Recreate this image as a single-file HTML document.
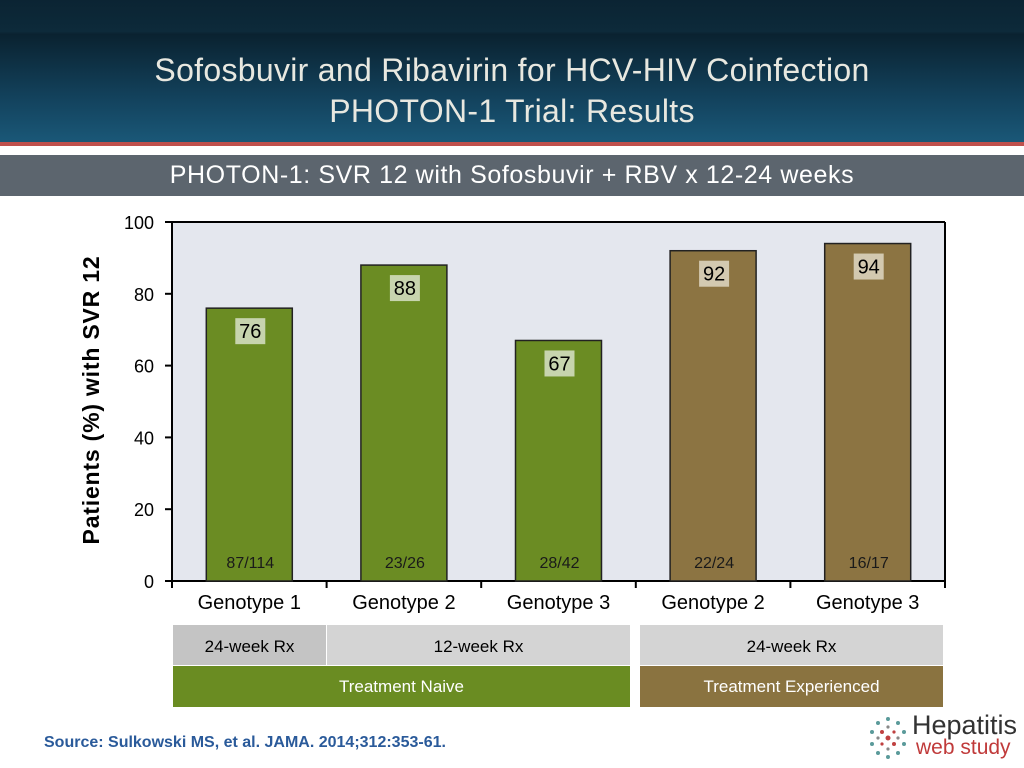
<!DOCTYPE html>
<html><head><meta charset="utf-8"><style>
body{margin:0;width:1024px;height:768px;overflow:hidden;background:#fff;font-family:"Liberation Sans",sans-serif;position:relative}
.abs{position:absolute}
</style></head><body>
<div class="abs" style="left:0;top:0;width:1024px;height:143px;background:linear-gradient(180deg,#0b2433 0,#0d2a3a 22%,#0a2230 24%,#13435e 70%,#1a5878 100%)"></div>
<div class="abs" style="left:0;top:142px;width:1024px;height:4px;background:#c0504d"></div>
<div class="abs" style="left:0;top:50px;width:1024px;text-align:center;color:#e8e8e0;font-size:32px;line-height:41px;letter-spacing:0.3px">Sofosbuvir and Ribavirin for HCV-HIV Coinfection<br>PHOTON-1 Trial: Results</div>
<div class="abs" style="left:0;top:155px;width:1024px;height:41px;background:#5c656e;color:#fff;font-size:25px;line-height:41px;text-align:center;letter-spacing:0.6px">PHOTON-1: SVR 12 with Sofosbuvir + RBV x 12-24 weeks</div>
<svg id="chart" class="abs" style="left:0;top:0" width="1024" height="768"></svg>
<div class="abs" style="left:173px;top:625px;width:153px;height:40px;background:#c4c4c4;font-size:17px;line-height:44px;text-align:center">24-week Rx</div>
<div class="abs" style="left:327px;top:625px;width:303px;height:40px;background:#d4d4d4;font-size:17px;line-height:44px;text-align:center">12-week Rx</div>
<div class="abs" style="left:640px;top:625px;width:303px;height:40px;background:#d4d4d4;font-size:17px;line-height:44px;text-align:center">24-week Rx</div>
<div class="abs" style="left:173px;top:666px;width:457px;height:41px;background:#6a8c22;color:#fff;font-size:17px;line-height:42px;text-align:center">Treatment Naive</div>
<div class="abs" style="left:640px;top:666px;width:303px;height:41px;background:#8a7340;color:#fff;font-size:17px;line-height:42px;text-align:center">Treatment Experienced</div>
<div class="abs" style="left:44px;top:734px;color:#2a5a9a;font-weight:bold;font-size:16px">Source: Sulkowski MS, et al.  JAMA. 2014;312:353-61.</div>
<div class="abs" style="left:866px;top:712px;width:160px;height:50px">
<svg width="44" height="48" style="position:absolute;left:0;top:2px"><g fill="#5a9a9a"><circle cx="22" cy="5" r="2"/><circle cx="12" cy="9" r="2"/><circle cx="32" cy="9" r="2"/><circle cx="6" cy="18" r="2"/><circle cx="38" cy="18" r="2"/><circle cx="6" cy="30" r="2"/><circle cx="38" cy="30" r="2"/><circle cx="12" cy="39" r="2"/><circle cx="32" cy="39" r="2"/><circle cx="22" cy="43" r="2"/></g><g fill="#c04040"><circle cx="22" cy="24" r="2.5"/><circle cx="16" cy="18" r="2"/><circle cx="28" cy="30" r="2"/><circle cx="28" cy="18" r="1.6"/><circle cx="16" cy="30" r="1.6"/></g><g fill="#888"><circle cx="22" cy="13" r="1.6"/><circle cx="22" cy="35" r="1.6"/><circle cx="12" cy="24" r="1.6"/><circle cx="32" cy="24" r="1.6"/></g></svg>
<div style="position:absolute;left:46px;top:-2px;font-size:27px;color:#333;line-height:30px">Hepatitis</div>
<div style="position:absolute;left:50px;top:25px;font-size:21px;color:#c03a3a;line-height:22px">web study</div>
</div>
<script>
const categories=["Genotype 1","Genotype 2","Genotype 3","Genotype 2","Genotype 3"];
const values=[76,88,67,92,94];
const fractions=["87/114","23/26","28/42","22/24","16/17"];
const groups=["naive","naive","naive","experienced","experienced"];
const ticks=[0,20,40,60,80,100];
const svg=document.getElementById('chart');
const NS='http://www.w3.org/2000/svg';
const L=172,R=945,T=222,B=581;
const y=v=>B-(v/100)*(B-T);
const cw=(R-L)/categories.length;
const x=i=>L+cw*(i+0.5);
function el(t,a,txt){const e=document.createElementNS(NS,t);for(const k in a)e.setAttribute(k,a[k]);if(txt!==undefined)e.textContent=txt;svg.appendChild(e);return e;}
let e=el('rect',{x:L,y:T,width:R-L,height:B-T,fill:'#e4e7ee'});

e=el('line',{x1:L,y1:T,x2:R,y2:T,stroke:'#000','stroke-width':2});

e=el('line',{x1:R,y1:T,x2:R,y2:B,stroke:'#000','stroke-width':2});

e=el('line',{x1:L,y1:T,x2:L,y2:B,stroke:'#000','stroke-width':2});

e=el('line',{x1:L,y1:B,x2:R,y2:B,stroke:'#000','stroke-width':2});

ticks.forEach(t=>{
 let a=el('line',{x1:L-7,y1:y(t),x2:L,y2:y(t),stroke:'#000','stroke-width':2});
 
 a=el('text',{x:L-18,y:y(t)+7,'text-anchor':'end','font-size':18},t);
 
});
for(let i=0;i<=categories.length;i++){
 let a=el('line',{x1:L+cw*i,y1:B,x2:L+cw*i,y2:B+7,stroke:'#000','stroke-width':2});
 
}
e=el('text',{transform:'translate(99,400) rotate(-90)','text-anchor':'middle','font-size':23,'font-weight':'bold','letter-spacing':'0.8'},'Patients (%) with SVR 12');

const bw=86;
categories.forEach((c,i)=>{
 const col=groups[i]==='naive'?'#6b8c23':'#8c7442';
 const lab=groups[i]==='naive'?'#c7d4ae':'#d3c9b0';
 let a=el('rect',{x:x(i)-bw/2,y:y(values[i]),width:bw,height:B-y(values[i]),fill:col,stroke:'#222','stroke-width':1.5});
 
 a=el('rect',{x:x(i)-14,y:y(values[i])+10,width:30,height:26,fill:lab});
 
 a=el('text',{x:x(i)+1,y:y(values[i])+30,'text-anchor':'middle','font-size':20},values[i]);
 
 a=el('text',{x:x(i)+1,y:B-13,'text-anchor':'middle','font-size':16,fill:'#1a1a1a'},fractions[i]);
 
 a=el('text',{x:x(i),y:B+28,'text-anchor':'middle','font-size':20},c);
 
});
</script>
</body></html>
